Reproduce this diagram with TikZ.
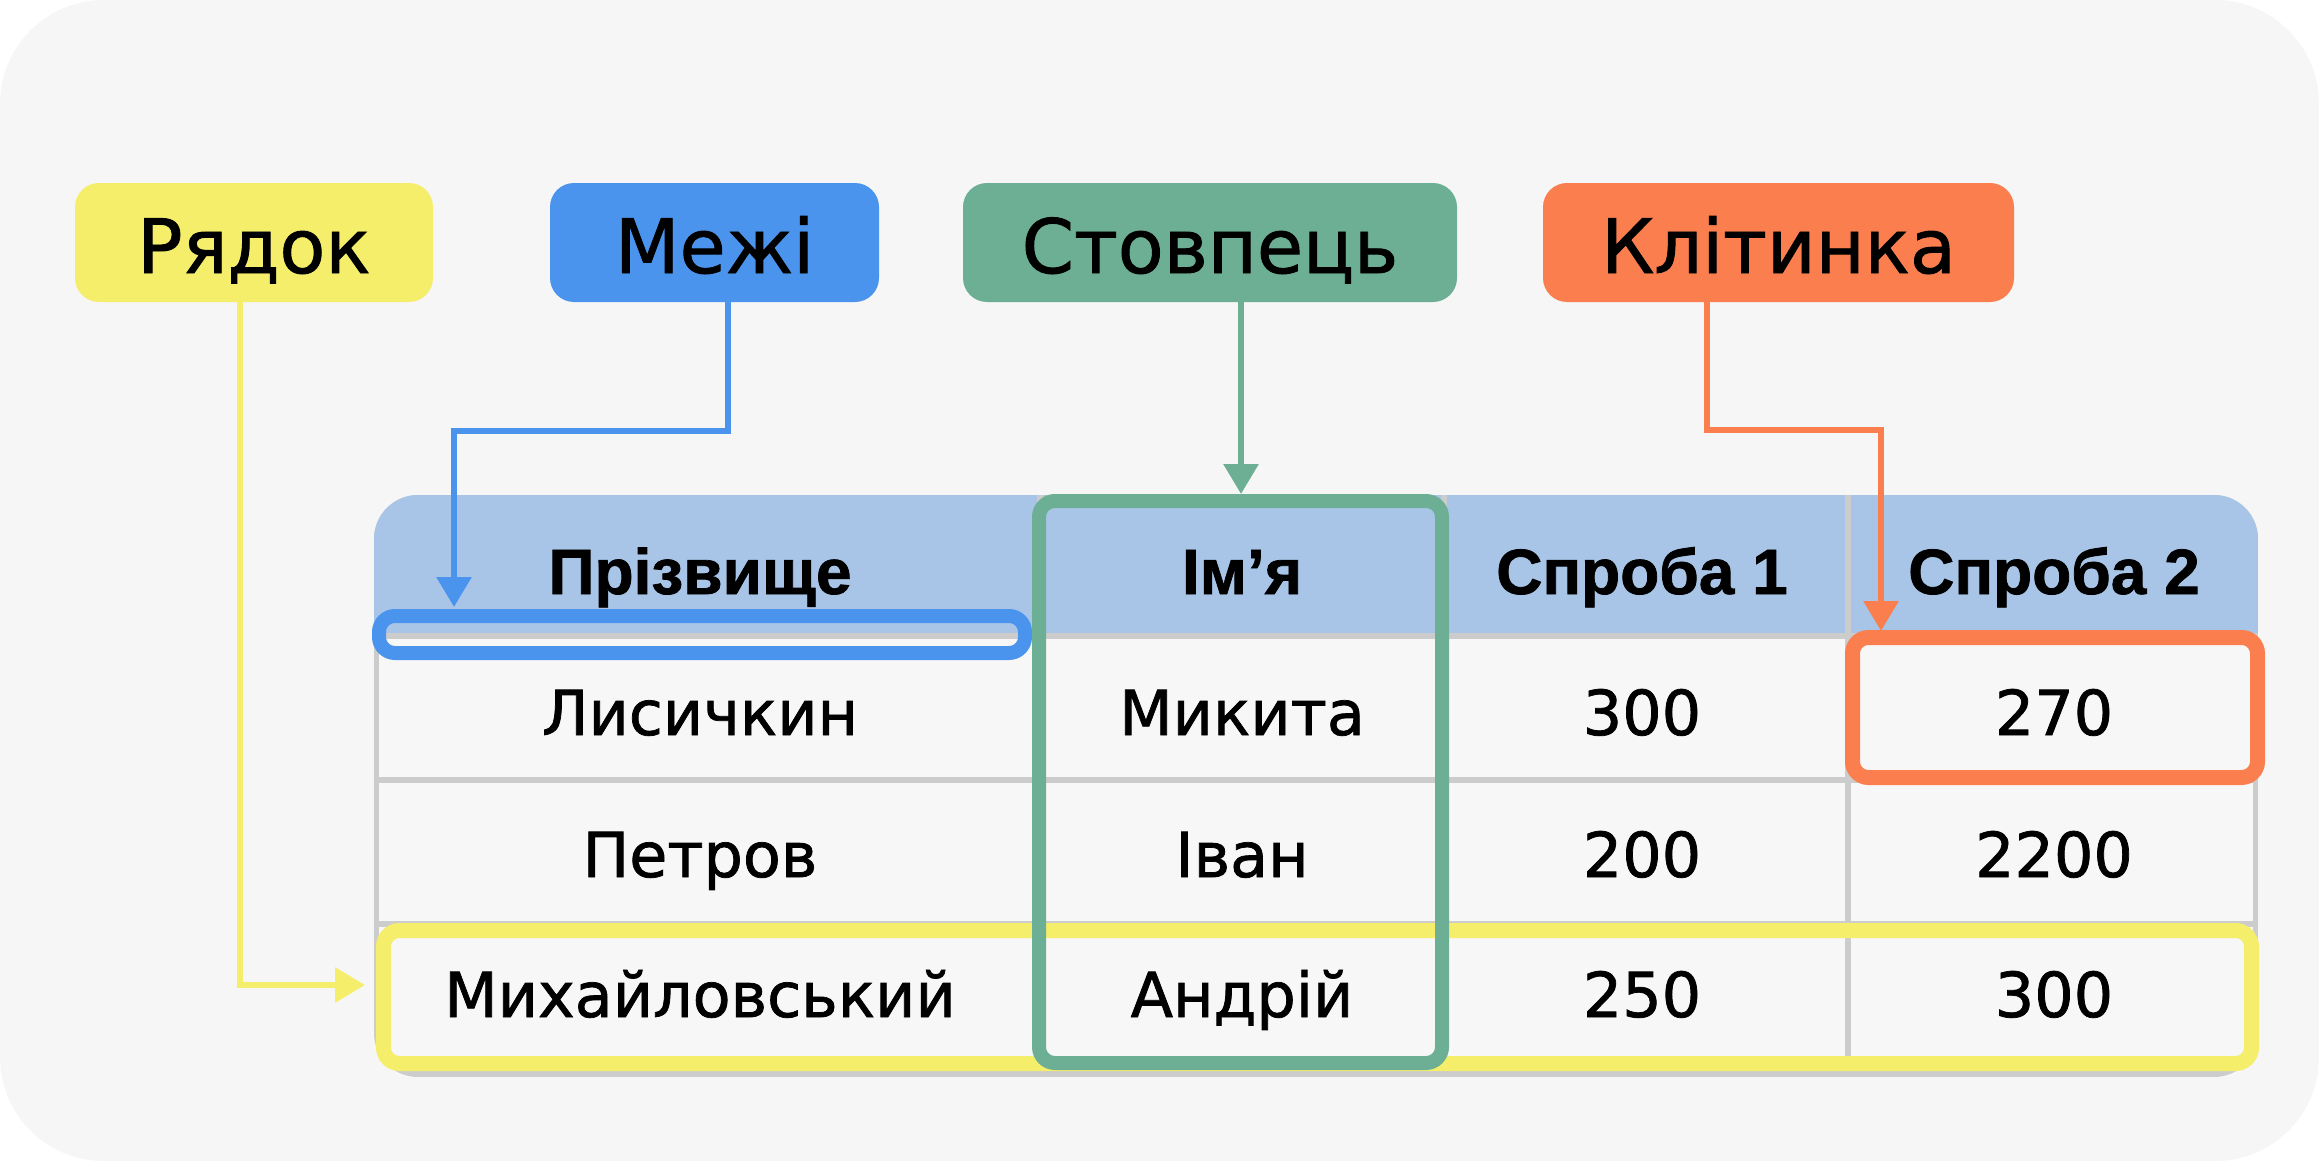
\documentclass[tikz,border=0pt]{standalone}
\usepackage{fontspec}
\setmainfont{DejaVu Sans}
\newfontfamily\medfont{DejaVu Sans}[FakeBold=1.2]
\newfontfamily\hdrfont{Liberation Sans Bold}[FakeBold=1.2]
\usetikzlibrary{arrows.meta}
\definecolor{bgc}{HTML}{F6F6F6}
\definecolor{cellc}{HTML}{F7F7F7}
\definecolor{gridc}{HTML}{CCCCCC}
\definecolor{hdrc}{HTML}{A8C5E8}
\definecolor{yel}{HTML}{F5EE6A}
\definecolor{blu}{HTML}{4A94EE}
\definecolor{grn}{HTML}{6DAF94}
\definecolor{org}{HTML}{FB7E4F}
\begin{document}
\begin{tikzpicture}[x=0.5pt,y=-0.5pt,
  lab/.style={rounded corners=12pt, minimum height=59.5pt, inner sep=0pt,
    text height=30.5pt, text depth=0pt, text=black,
    font=\medfont\fontsize{37.5}{40}\selectfont},
  conn/.style={line width=3pt, -{Triangle[length=15pt,width=17pt]}},
  hdr/.style={anchor=base, text=black, font=\hdrfont\fontsize{32}{34}\selectfont},
  cell/.style={anchor=base, text=black, font=\medfont\fontsize{31}{34}\selectfont},
  gridline/.style={gridc, line width=3pt},
  hl/.style={line width=7pt, rounded corners=8pt}
]
% background
\fill[white] (0,0) rectangle (2319,1161);
\fill[bgc, rounded corners=52pt] (0,0) rectangle (2319,1161);
\useasboundingbox (0,0) rectangle (2319,1161);

% table base and header
\begin{scope}
  \clip[rounded corners=22pt] (374,495) rectangle (2258,1077);
  \fill[gridc] (374,495) rectangle (2258,1077);
  \fill[hdrc] (374,495) rectangle (2258,633);
\end{scope}
\begin{scope}
  \clip[rounded corners=20pt] (379,500) rectangle (2253,1071);
  \fill[cellc] (379,639) rectangle (2253,1071);
\end{scope}
\draw[gridline] (379,780) -- (2253,780);
\draw[gridline] (379,924) -- (2253,924);
\draw[gridline] (1040,495) -- (1040,1071);
\draw[gridline] (1444,495) -- (1444,1071);
\draw[gridline] (1848,495) -- (1848,1071);

% table text
\node[hdr] (h1) at (700,594) {Прізвище};
\node[hdr] (h2) at (1242,594) {Ім’я};
\node[hdr] (h3) at (1642,594) {Спроба 1};
\node[hdr] (h4) at (2054,594) {Спроба 2};

\node[cell] (a1) at (700,735) {Лисичкин};
\node[cell] (b1) at (1242,735) {Микита};
\node[cell] (c1) at (1642,735) {300};
\node[cell] (d1) at (2054,735) {270};

\node[cell] (a2) at (700,877) {Петров};
\node[cell] (b2) at (1242,877) {Іван};
\node[cell] (c2) at (1642,877) {200};
\node[cell] (d2) at (2054,877) {2200};

\node[cell] (a3) at (700,1017) {Михайловський};
\node[cell] (b3) at (1242,1017) {Андрій};
\node[cell] (c3) at (1642,1017) {250};
\node[cell] (d3) at (2054,1017) {300};

% highlight frames
\draw[hl, yel, line width=7.5pt] (383.5,930.5) rectangle (2251.5,1063.5);
\draw[hl, grn] (1039,501) rectangle (1442,1063);
\draw[hl, blu] (379,616) rectangle (1025,653);
\draw[hl, org, line width=7.5pt] (1852.5,637.5) rectangle (2257.5,777.5);

% labels
\node[lab, fill=yel, minimum width=179pt] (ryadok) at (254,242.5) {Рядок};
\node[lab, fill=blu, minimum width=164.5pt] (mezhi) at (714.5,242.5) {Межі};
\node[lab, fill=grn, minimum width=247pt] (stovp) at (1210,242.5) {Стовпець};
\node[lab, fill=org, minimum width=235.5pt] (klit) at (1778.5,242.5) {Клітинка};

% connectors
\coordinate (ryX) at (240,0);
\coordinate (ryTip) at (365,985);
\coordinate (meX) at (728,0);
\coordinate (meTip) at (454,607);
\coordinate (stTip) at (1241,494);
\coordinate (klX) at (1707,0);
\coordinate (klTip) at (1881,631);

\draw[conn, yel] (ryadok.south -| ryX) |- (ryTip);
\draw[conn, blu] (mezhi.south -| meX) -- ++(0,128.5) -| (meTip);
\draw[conn, grn] (stovp.south -| stTip) -- (stTip);
\draw[conn, org] (klit.south -| klX) -- ++(0,128) -| (klTip);
\end{tikzpicture}
\end{document}
